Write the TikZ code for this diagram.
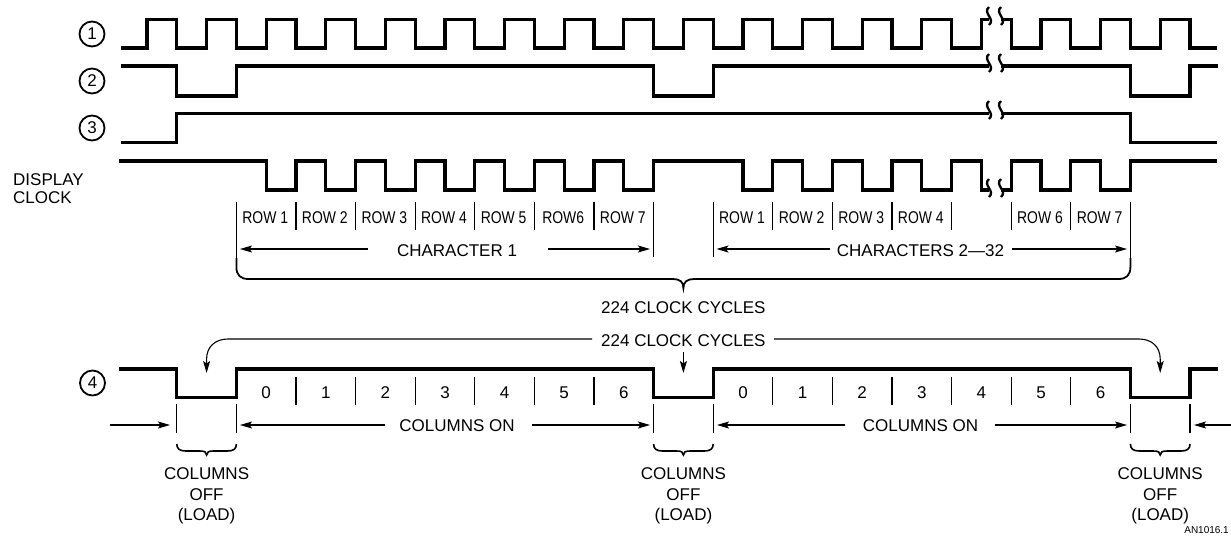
\documentclass[tikz,border=0pt]{standalone}
\usepackage{fontspec}
\usepackage{graphicx}
\setmainfont{Liberation Sans}
\usetikzlibrary{arrows.meta}
\newcommand{\brkmark}[1]{%
  \draw[sq] (989,{#1-11}) .. controls (982,{#1-5}) and (996,{#1+1}) .. (989,{#1+7});
  \draw[sq] (1001,{#1-11}) .. controls (994,{#1-5}) and (1008,{#1+1}) .. (1001,{#1+7});}
\newcommand{\rw}[1]{\scalebox{0.82}[1]{#1}}
\begin{document}
\begin{tikzpicture}[x=1pt,y=-1pt,
  sig/.style={line width=3.2pt, line join=miter, line cap=butt},
  thinl/.style={line width=1.2pt},
  sq/.style={line width=2.3pt},
  arr/.style={line width=1.1pt,-{Stealth[length=12pt,width=7pt,inset=2.5pt]}},
  lbl/.style={font=\fontsize{17}{20}\selectfont, inner sep=0pt, anchor=base},
  smlbrace/.style={line width=1.6pt},
  cnum/.style={circle,draw,line width=1.8pt,minimum size=25pt,inner sep=0pt,font=\fontsize{17}{17}\selectfont}]
\useasboundingbox (0,0) rectangle (1231,544);

% ---------- signal 1 ----------
\node[cnum] (c1) at (92,34) {1};
\draw[sig] (121,48) \foreach \k in {0,...,13} { -- ({147+59.6*\k},48) -- ({147+59.6*\k},19.5) -- ({176.8+59.6*\k},19.5) -- ({176.8+59.6*\k},48) }
  -- ({147+59.6*14},48) -- ({147+59.6*14},19.5) -- (989,19.5);
\draw[sig] (1001,19.5) -- ({176.8+59.6*14},19.5) -- ({176.8+59.6*14},48)
  \foreach \k in {15,16,17} { -- ({147+59.6*\k},48) -- ({147+59.6*\k},19.5) -- ({176.8+59.6*\k},19.5) -- ({176.8+59.6*\k},48) } -- (1217,48);
\brkmark{18}

% ---------- signal 2 ----------
\node[cnum] (c2) at (92,81) {2};
\draw[sig] (121,66) -- (176.8,66) -- (176.8,96) -- (236.4,96) -- (236.4,66) -- (653.6,66) -- (653.6,96) -- (713.2,96) -- (713.2,66) -- (989,66);
\draw[sig] (1001,66) -- (1130.4,66) -- (1130.4,96) -- (1190,96) -- (1190,66) -- (1218,66);
\brkmark{65}

% ---------- signal 3 ----------
\node[cnum] (c3) at (92,128) {3};
\draw[sig] (121,142.5) -- (176.8,142.5) -- (176.8,113.5) -- (989,113.5);
\draw[sig] (1001,113.5) -- (1130.4,113.5) -- (1130.4,142.5) -- (1217,142.5);
\brkmark{112}

% ---------- display clock ----------
\node[lbl,anchor=base west] (dl1) at (13,185) {DISPLAY};
\node[lbl,anchor=base west] (dl2) at (13,203) {CLOCK};
\draw[sig] (119,161) \foreach \k in {2,...,8} { -- ({147+59.6*\k},161) -- ({147+59.6*\k},190) -- ({176.8+59.6*\k},190) -- ({176.8+59.6*\k},161) }
  \foreach \k in {10,...,13} { -- ({147+59.6*\k},161) -- ({147+59.6*\k},190) -- ({176.8+59.6*\k},190) -- ({176.8+59.6*\k},161) }
  -- ({147+59.6*14},161) -- ({147+59.6*14},190) -- (989,190);
\draw[sig] (1001,190) -- ({176.8+59.6*14},190) -- ({176.8+59.6*14},161)
  \foreach \k in {15,16} { -- ({147+59.6*\k},161) -- ({147+59.6*\k},190) -- ({176.8+59.6*\k},190) -- ({176.8+59.6*\k},161) } -- (1217,161);
\brkmark{190}

% ---------- row dividers and labels ----------
\foreach \n in {5,7,9,11,13,15,21,23,25,27,29,31}
  \draw[thinl] ({147+29.8*\n},202) -- ({147+29.8*\n},230);
\draw[thinl] (653.6,202) -- (653.6,257);
\draw[thinl] (713.2,202) -- (713.2,257);
\draw[thinl] (236.4,202) -- (236.4,262);
\draw[thinl] (1130.4,202) -- (1130.4,262);
\foreach \n/\t [count=\i] in {4/ROW 1,6/ROW 2,8/ROW 3,10/ROW 4,12/ROW 5,14/ROW6,16/ROW 7,20/ROW 1,22/ROW 2,24/ROW 3,26/ROW 4,30/ROW 6,32/ROW 7}
  \node[lbl] (r\i) at ({147+29.8*\n-1},223.3) {\rw{\t}};

% character arrows
\node[lbl] (ch1) at (457,256) {CHARACTER 1};
\draw[arr] (368,249) -- (240,249);
\draw[arr] (548,249) -- (650,249);
\node[lbl] (ch2) at (920.5,256) {CHARACTERS 2—32};
\draw[arr] (830,249) -- (716.5,249);
\draw[arr] (1012,249) -- (1127,249);

% big brace
\draw[line width=1.8pt] (236.4,258) -- (236.4,267) .. controls (236.4,275) and (240.4,279) .. (248.4,279)
  -- (673,279) .. controls (680,279) and (683.4,282) .. (683.4,288) .. controls (683.4,282) and (687,279) .. (694,279)
  -- (1118.4,279) .. controls (1126.4,279) and (1130.4,275) .. (1130.4,267) -- (1130.4,258);
\node[lbl] (cc1) at (683.4,313.3) {224 CLOCK CYCLES};

% ---------- signal 4 ----------
\node[cnum] (c4) at (92.5,383) {4};
\node[lbl] (cc2) at (683.4,346) {224 CLOCK CYCLES};
\draw[arr] (592,339) -- (228,339) .. controls (215,339) and (206.6,347) .. (206.6,359) -- (206.6,373);
\draw[arr] (774,339) -- (1139,339) .. controls (1152,339) and (1160.2,347) .. (1160.2,359) -- (1160.2,373);
\draw[arr] (683.4,352) -- (683.4,373);

\draw[sig] (119,369) -- (176.8,369) -- (176.8,397.7) -- (236.4,397.7) -- (236.4,369) -- (653.6,369) -- (653.6,397.7) -- (713.2,397.7) -- (713.2,369)
  -- (1130.4,369) -- (1130.4,397.7) -- (1190,397.7) -- (1190,369) -- (1218,369);
\foreach \n in {5,7,9,11,13,15,21,23,25,27,29,31}
  \draw[thinl] ({147+29.8*\n},377) -- ({147+29.8*\n},405);
\foreach \n/\t in {4/0,6/1,8/2,10/3,12/4,14/5,16/6}{
  \node[lbl] (da\t) at ({147+29.8*\n},398.3) {\t};
  \node[lbl] (db\t) at ({147+29.8*(\n+16)},398.3) {\t};}

% columns on arrows
\foreach \n in {1,3,17,19,33,35}
  \draw[thinl] ({147+29.8*\n},404) -- ({147+29.8*\n},433);
\draw[arr] (110,425) -- (170,425);
\draw[arr] (385,425) -- (240,425);
\node[lbl] (co1) at (457,431.7) {COLUMNS ON};
\draw[arr] (532,425) -- (650,425);
\draw[arr] (845,425) -- (717,425);
\node[lbl] (co2) at (920.5,431.7) {COLUMNS ON};
\draw[arr] (995,425) -- (1127,425);
\draw[arr] (1231,425) -- (1194,425);

% small braces and labels
\foreach \m [count=\i] in {2,18,34}{
  \draw[smlbrace] ({147+29.8*(\m-1)},444) .. controls ({147+29.8*(\m-1)},449) and ({147+29.8*(\m-1)+3},451) .. ({147+29.8*(\m-1)+9},451)
    -- ({147+29.8*\m-7},451) .. controls ({147+29.8*\m-2},451) and ({147+29.8*\m},452) .. ({147+29.8*\m},455)
    .. controls ({147+29.8*\m},452) and ({147+29.8*\m+2},451) .. ({147+29.8*\m+7},451)
    -- ({147+29.8*(\m+1)-9},451) .. controls ({147+29.8*(\m+1)-3},451) and ({147+29.8*(\m+1)},449) .. ({147+29.8*(\m+1)},444);
  \node[lbl] (off\i a) at ({147+29.8*\m},479) {COLUMNS};
  \node[lbl] (off\i b) at ({147+29.8*\m},500) {OFF};
  \node[lbl] (off\i c) at ({147+29.8*\m},520) {(LOAD)};}

\node[inner sep=0pt,anchor=base east,font=\fontsize{10}{12}\selectfont] (an) at (1229,533.5) {AN1016.1};
\end{tikzpicture}
\end{document}
